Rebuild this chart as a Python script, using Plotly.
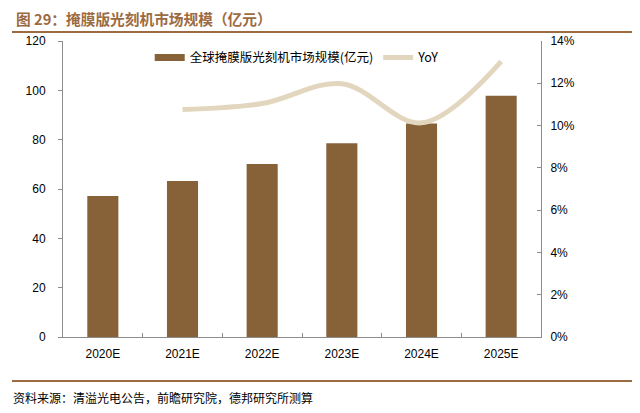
import plotly.graph_objects as go

categories = ["2020E", "2021E", "2022E", "2023E", "2024E", "2025E"]
market_size = [57.2, 63.2, 70.1, 78.5, 86.6, 97.8]
yoy_categories = ["2021E", "2022E", "2023E", "2024E", "2025E"]
yoy = [0.1076, 0.1104, 0.1198, 0.1013, 0.1304]

bar_name = "全球掩膜版光刻机市场规模(亿元)"
line_name = "YoY"
title_text = "图 29：掩膜版光刻机市场规模（亿元）"
source_text = "资料来源：清溢光电公告，前瞻研究院，德邦研究所测算"

BAR_COLOR = "#876239"
LINE_COLOR = "#E2D6BE"
TITLE_COLOR = "#9C6B42"
AXIS_COLOR = "#8C8C8C"
FONT = "Liberation Sans, Arial, Noto Sans CJK SC, sans-serif"
CJK = "Noto Sans CJK SC, sans-serif"

# page body has an 8px default margin; figure is sized to compensate
W, H = 632, 405
L, T = 55, 33
PW, PH = 478, 296

fig = go.Figure()
fig.add_trace(go.Bar(
    x=categories, y=market_size, name=bar_name,
    marker=dict(color=BAR_COLOR, line=dict(width=0)),
    width=0.39, yaxis="y", showlegend=False,
))
# legend proxy for the bars (wide rectangle swatch)
fig.add_trace(go.Scatter(
    x=[None], y=[None], name=bar_name, mode="lines",
    line=dict(color=BAR_COLOR, width=7), yaxis="y",
))
fig.add_trace(go.Scatter(
    x=yoy_categories, y=yoy, name=line_name, mode="lines",
    line=dict(color=LINE_COLOR, width=5, shape="spline", smoothing=1.0),
    yaxis="y2",
))

fig.update_layout(
    width=W, height=H,
    margin=dict(l=L, r=W - L - PW, t=T, b=H - T - PH, autoexpand=False),
    paper_bgcolor="white", plot_bgcolor="white",
    font=dict(family=FONT, size=12, color="#000000"),
    showlegend=True,
    legend=dict(
        orientation="h", x=0.49, y=0.943, xanchor="center", yanchor="middle",
        font=dict(family=CJK, size=12.5, color="#000000"),
        bgcolor="rgba(0,0,0,0)", traceorder="normal", itemwidth=30,
    ),
    xaxis=dict(
        type="category", showline=True, linecolor=AXIS_COLOR, linewidth=1,
        ticks="inside", tickson="boundaries", ticklen=4, tickcolor=AXIS_COLOR,
        showgrid=False, zeroline=False, ticklabelstandoff=6, automargin=False,
        tickfont=dict(family=FONT, size=12),
    ),
    yaxis=dict(
        range=[0, 120], dtick=20, showline=True, linecolor=AXIS_COLOR, linewidth=1,
        ticks="outside", ticklen=4, tickcolor=AXIS_COLOR, showgrid=False,
        zeroline=False, ticklabelstandoff=10, automargin=False,
        tickfont=dict(family=FONT, size=12),
    ),
    yaxis2=dict(
        range=[0, 0.14], dtick=0.02, tickformat=".0%", overlaying="y", side="right",
        showline=True, linecolor=AXIS_COLOR, linewidth=1,
        ticks="inside", ticklen=4, tickcolor=AXIS_COLOR, showgrid=False,
        zeroline=False, ticklabelstandoff=6, automargin=False,
        tickfont=dict(family=FONT, size=12),
    ),
)

fig.add_annotation(
    text="<b>" + title_text + "</b>", xref="paper", yref="paper",
    x=(14 - 63) / PW, y=1 + (41 - 18) / PH, xanchor="left", yanchor="middle",
    showarrow=False, font=dict(family=CJK, size=14.7, color=TITLE_COLOR),
)
fig.add_annotation(
    text=source_text, xref="paper", yref="paper",
    x=(11 - 63) / PW, y=-(397 - 337) / PH, xanchor="left", yanchor="middle",
    showarrow=False, font=dict(family=CJK, size=12, color="#000000"),
)
fig.add_shape(
    type="line", xref="paper", yref="paper",
    x0=(12 - 63) / PW, x1=1 + (632 - 541) / PW,
    y0=1 + (41 - 32) / PH, y1=1 + (41 - 32) / PH,
    line=dict(color=TITLE_COLOR, width=2),
)
fig.add_shape(
    type="line", xref="paper", yref="paper",
    x0=(12 - 63) / PW, x1=1 + (632 - 541) / PW,
    y0=-(381 - 337) / PH, y1=-(381 - 337) / PH,
    line=dict(color=TITLE_COLOR, width=2),
)

fig.write_html("out.html")
